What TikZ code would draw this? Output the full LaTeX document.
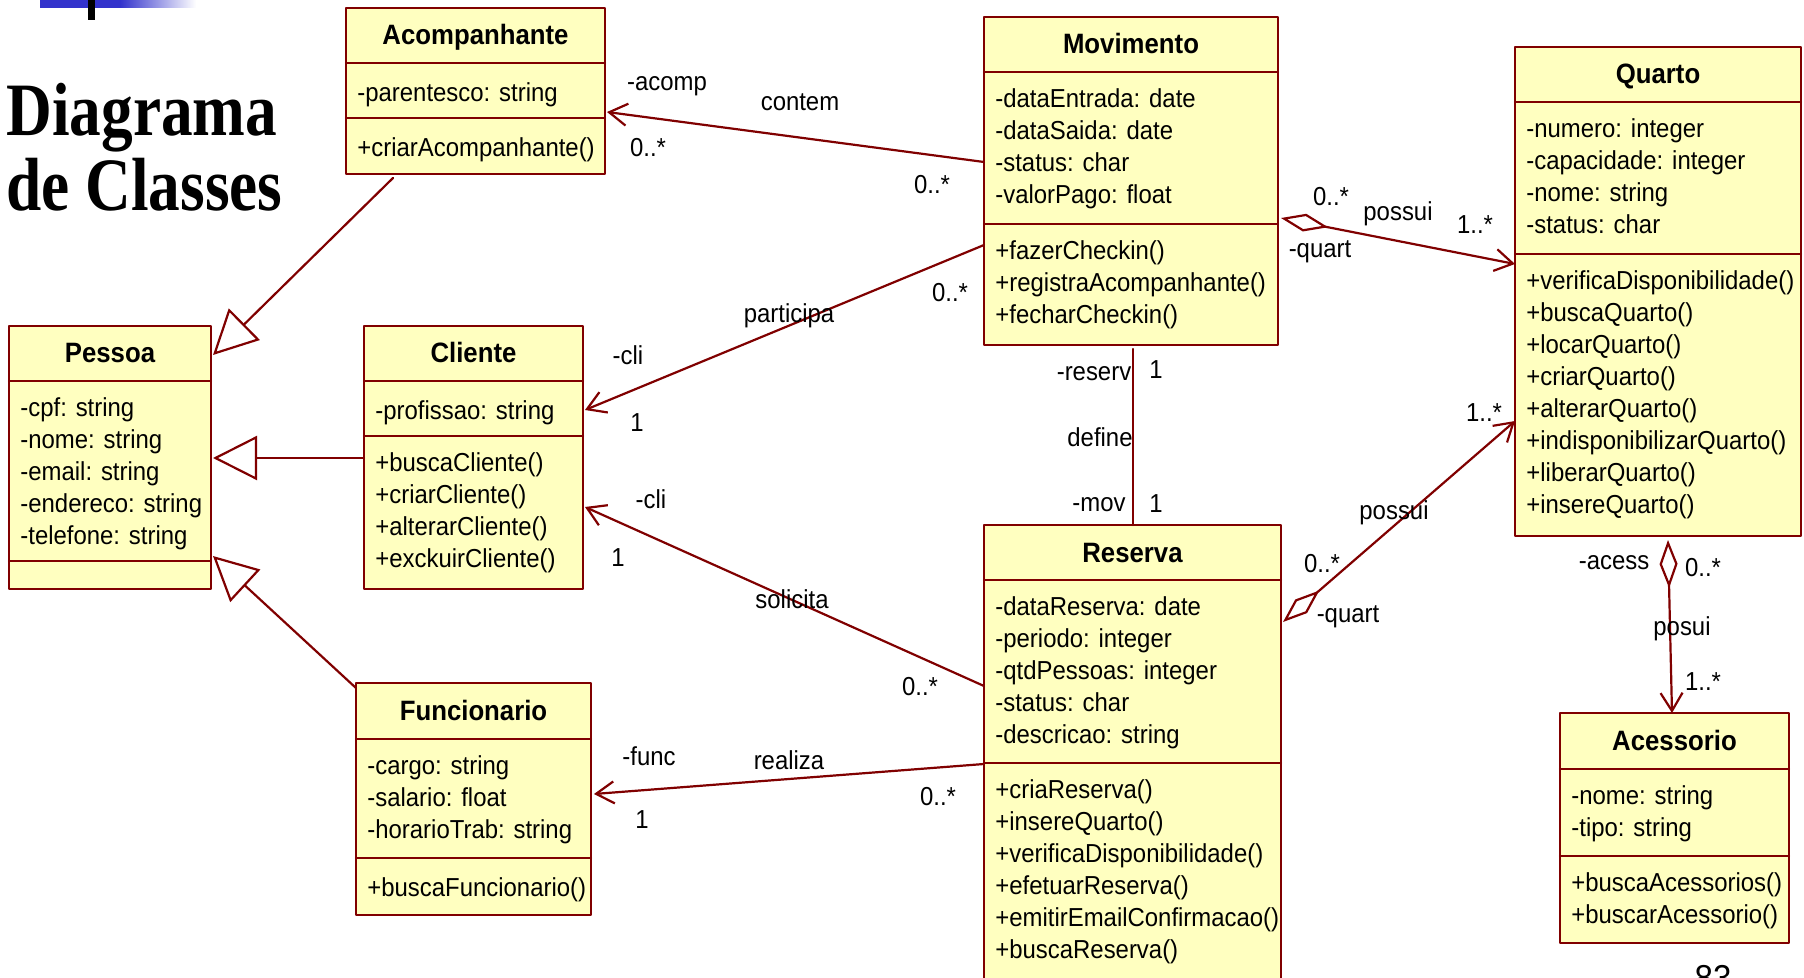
\documentclass[tikz,border=0pt]{standalone}
\usepackage{fontspec}
\setmainfont{Liberation Sans}[FakeStretch=0.92]
\newfontfamily\titlefont{Liberation Serif}[FakeStretch=0.84]
\usetikzlibrary{arrows.meta,calc}

\definecolor{umlred}{RGB}{128,0,0}
\definecolor{umlfill}{RGB}{255,255,192}
\definecolor{barblue}{RGB}{51,51,204}

% name, corner, width, height, 1st divider, 2nd divider, title, attributes, operations
\newcommand\umlclass[9]{%
  \node[classbox, minimum width=#3*0.5pt, minimum height=#4*0.5pt] (#1) at (#2) {};
  \draw[umlline] ($(#1.north west)+(0,#5)$) -- ++(#3,0);
  \draw[umlline] ($(#1.north west)+(0,#6)$) -- ++(#3,0);
  \node[ctitle] (#1-title) at ($(#1.north)+(0,37)$) {#7};
  \node[cbody] (#1-attr) at ($(#1.north west)+(11,#5+16)$) {#8};
  \node[cbody] (#1-ops) at ($(#1.north west)+(11,#6+16)$) {#9};
}

\begin{document}
\begin{tikzpicture}[x=0.5pt, y=-0.5pt, line cap=round, line join=round,
    classbox/.style={draw=umlred, fill=umlfill, line width=1.1pt, anchor=north west, inner sep=0pt, outer sep=0pt},
    umlline/.style={umlred, line width=1.1pt},
    ctitle/.style={anchor=base, inner sep=0pt, font=\fontsize{14}{16}\selectfont\bfseries},
    cbody/.style={anchor=north west, align=left, inner sep=0pt, font=\fontsize{13}{16}\selectfont, execute at begin node=\strut},
    lbl/.style={inner sep=0pt, font=\fontsize{13}{16}\selectfont},
    assoc/.style={umlline, -{Straight Barb[length=9pt,width=11pt]}},
    aggr/.style={umlline, {Diamond[open,length=24pt,width=9pt]}-{Straight Barb[length=9pt,width=11pt]}},
    inherit/.style={umlline, -{Triangle[open,length=22pt,width=22pt]}}]

  \clip (0,0) rectangle (1804,978);
  \fill[white] (0,0) rectangle (1804,978);

  % slide decoration
  \fill[barblue] (40,0) rectangle (120,8);
  \shade[left color=barblue, right color=white] (120,0) rectangle (196,8);
  \fill[black] (88,0) rectangle (95,20);

  \node[anchor=base west, inner sep=0pt, font=\titlefont\fontsize{37.7}{37.5}\selectfont\bfseries] (head1) at (6,136) {Diagrama};
  \node[anchor=base west, inner sep=0pt, font=\titlefont\fontsize{37.7}{37.5}\selectfont\bfseries] (head2) at (6,211) {de Classes};

  \umlclass{acomp}{346,8}{259}{166}{55}{110}{Acompanhante}
    {-parentesco: string}{+criarAcompanhante()}
  \umlclass{mov}{984,17}{294}{328}{55}{207}{Movimento}
    {-dataEntrada: date\\-dataSaida: date\\-status: char\\-valorPago: float}
    {+fazerCheckin()\\+registraAcompanhante()\\+fecharCheckin()}
  \umlclass{quarto}{1515,47}{286}{489}{55}{207}{Quarto}
    {-numero: integer\\-capacidade: integer\\-nome: string\\-status: char}
    {+verificaDisponibilidade()\\+buscaQuarto()\\+locarQuarto()\\+criarQuarto()\\+alterarQuarto()\\+indisponibilizarQuarto()\\+liberarQuarto()\\+insereQuarto()}
  \umlclass{pessoa}{9,326}{202}{263}{55}{235}{Pessoa}
    {-cpf: string\\-nome: string\\-email: string\\-endereco: string\\-telefone: string}{}
  \umlclass{cli}{364,326}{219}{263}{55}{110}{Cliente}
    {-profissao: string}
    {+buscaCliente()\\+criarCliente()\\+alterarCliente()\\+exckuirCliente()}
  \umlclass{func}{356,683}{235}{232}{56}{175}{Funcionario}
    {-cargo: string\\-salario: float\\-horarioTrab: string}{+buscaFuncionario()}
  \umlclass{res}{984,525}{297}{480}{55}{238}{Reserva}
    {-dataReserva: date\\-periodo: integer\\-qtdPessoas: integer\\-status: char\\-descricao: string}
    {+criaReserva()\\+insereQuarto()\\+verificaDisponibilidade()\\+efetuarReserva()\\+emitirEmailConfirmacao()\\+buscaReserva()}
  \umlclass{acess}{1560,713}{229}{230}{56}{143}{Acessorio}
    {-nome: string\\-tipo: string}{+buscaAcessorios()\\+buscarAcessorio()}

  % generalizations
  \draw[inherit] ($(acomp.south west)+(47,4)$) -- ($(pessoa.north east)+(2,29)$);
  \draw[inherit] ($(cli.north west)+(0,132)$) -- ($(pessoa.north east)+(2,132)$);
  \draw[inherit] ($(func.north west)+(0,5)$) -- ($(pessoa.north east)+(2,230)$);

  % associations
  \draw[assoc] ($(mov.north west)+(0,145)$) -- ($(acomp.north east)+(2,104)$);
  \draw[assoc] ($(mov.north west)+(0,228)$) -- ($(cli.north east)+(2,84)$);
  \draw[aggr] ($(mov.north east)+(3,201)$) -- ($(quarto.north west)+(0,217)$);
  \draw[umlline] ($(mov.south)+(2,4)$) -- ($(res.north)+(0.5,0)$);
  \draw[aggr] ($(res.north east)+(2,97)$) -- ($(quarto.north west)+(0,374)$);
  \draw[assoc] ($(res.north west)+(0,161)$) -- ($(cli.north east)+(2,181)$);
  \draw[assoc] ($(res.north west)+(0,239)$) -- ($(func.north east)+(3,111)$);
  \draw[aggr] ($(quarto.south west)+(153,4)$) -- ($(acess.north west)+(112,0)$);

  % role names, multiplicities, association names
  \foreach \x/\y/\t [count=\i] in {667/86/-acomp, 800/102/contem, 648/148/0..*, 932/185/0..*,
      789/316/participa, 628/355/-cli, 637/423/1, 950/293/0..*,
      1331/197/0..*, 1398/214/possui, 1475/225/1..*, 1320/252/-quart,
      1094/374/-reserv, 1156/370/1, 1100/437/define, 1099/505/-mov, 1156/504/1,
      1322/564/0..*, 1394/513/possui, 1484/413/1..*, 1348/617/-quart,
      792/599/solicita, 651/499/-cli, 618/558/1, 920/687/0..*,
      789/760/realiza, 649/756/-func, 642/820/1, 938/797/0..*,
      1614/563/-acess, 1703/568/0..*, 1682/629/posui, 1703/682/1..*}
    \node[lbl] (lab\i) at (\x,\y) {\t};

  \node[anchor=base, inner sep=0pt, font=\fontsize{18}{20}\selectfont] (pagenum) at (1713,990) {83};
\end{tikzpicture}
\end{document}
